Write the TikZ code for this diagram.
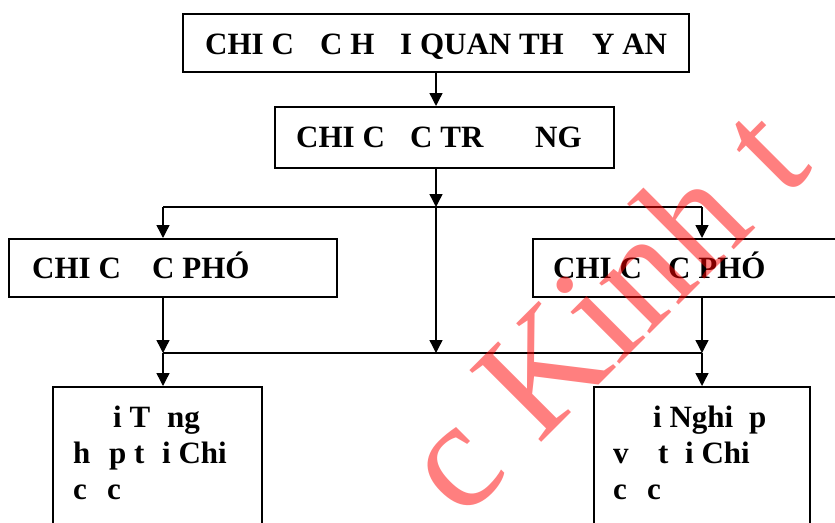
\documentclass[tikz,border=0pt]{standalone}
\usepackage{fontspec}
\setmainfont{Liberation Serif}
\usetikzlibrary{arrows.meta}
\begin{document}
\begin{tikzpicture}[x=1pt,y=-1pt,
  box/.style={draw,line width=1.5pt,inner sep=0pt,anchor=north west},
  lbl/.style={anchor=base west,inner sep=0pt,font=\fontsize{31}{36}\selectfont\bfseries},
  arr/.style={line width=1.4pt,-{Triangle[length=13pt,width=13pt]}},
  ln/.style={line width=1.4pt},
  wm/.style={text=red,text opacity=0.5,font=\fontsize{155}{155}\selectfont,rotate=45,anchor=base west,inner sep=0pt}]
\useasboundingbox (0,0) rectangle (835,522);
\clip (0,0) rectangle (835,522);
% boxes
\node[box,minimum width=506pt,minimum height=58pt] (top) at (182,13) {};
\node[box,minimum width=339pt,minimum height=61pt] (mid) at (274,106) {};
\node[box,minimum width=328pt,minimum height=58pt] (lbox) at (8,238) {};
\node[box,minimum width=360pt,minimum height=58pt] (rbox) at (532,238) {};
\node[box,minimum width=209pt,minimum height=200pt] (blbox) at (52,386) {};
\node[box,minimum width=216pt,minimum height=200pt] (brbox) at (593,386) {};
% texts
\node[lbl] (t1) at (205,54) {CHI C};
\node[lbl] (t2) at (320,54) {C H};
\node[lbl] (t3) at (400,54) {I QUAN TH};
\node[lbl] (t4) at (592,54) {Y AN};
\node[lbl] (m1) at (296,147) {CHI C};
\node[lbl] (m2) at (410,147) {C TR};
\node[lbl] (m3) at (535,147) {NG};
\node[lbl] (l1) at (32,278) {CHI C};
\node[lbl] (l2) at (152,278) {C PHÓ};
\node[lbl] (r1) at (553,278) {CHI C};
\node[lbl] (r2) at (668,278) {C PHÓ};
\node[lbl] (a1) at (113,427) {i T};
\node[lbl] (a2) at (167,427) {ng};
\node[lbl] (a3) at (73,463) {h};
\node[lbl] (a4) at (109,463) {p t};
\node[lbl] (a5) at (162,463) {i Chi};
\node[lbl] (a6) at (73,499) {c};
\node[lbl] (a7) at (107,499) {c};
\node[lbl] (b1) at (653,427) {i Nghi};
\node[lbl] (b2) at (749,427) {p};
\node[lbl] (b3) at (613,463) {v};
\node[lbl] (b4) at (658,463) {t};
\node[lbl] (b5) at (685,463) {i Chi};
\node[lbl] (b6) at (613,499) {c};
\node[lbl] (b7) at (647,499) {c};
% junctions
\coordinate (j1) at (436,207);
\coordinate (jl) at (163,207);
\coordinate (jr) at (702,207);
\coordinate (k1) at (436,353);
\coordinate (kl) at (163,353);
\coordinate (kr) at (702,353);
% connectors
\draw[arr] (j1 |- top.south) -- (j1 |- mid.north);
\draw[arr] (j1 |- mid.south) -- (j1);
\draw[ln] (jl) -- (jr);
\draw[arr] (jl) -- (jl |- lbox.north);
\draw[arr] (jr) -- (jr |- rbox.north);
\draw[arr] (j1) -- (k1);
\draw[ln] (kl) -- (kr);
\draw[arr] (kl |- lbox.south) -- (kl);
\draw[arr] (kr |- rbox.south) -- (kr);
\draw[arr] (kl) -- (kl |- blbox.north);
\draw[arr] (kr) -- (kr |- brbox.north);
% watermark
\node[wm] (wmk) at (462,522) {c Kinh t};
\end{tikzpicture}
\end{document}
